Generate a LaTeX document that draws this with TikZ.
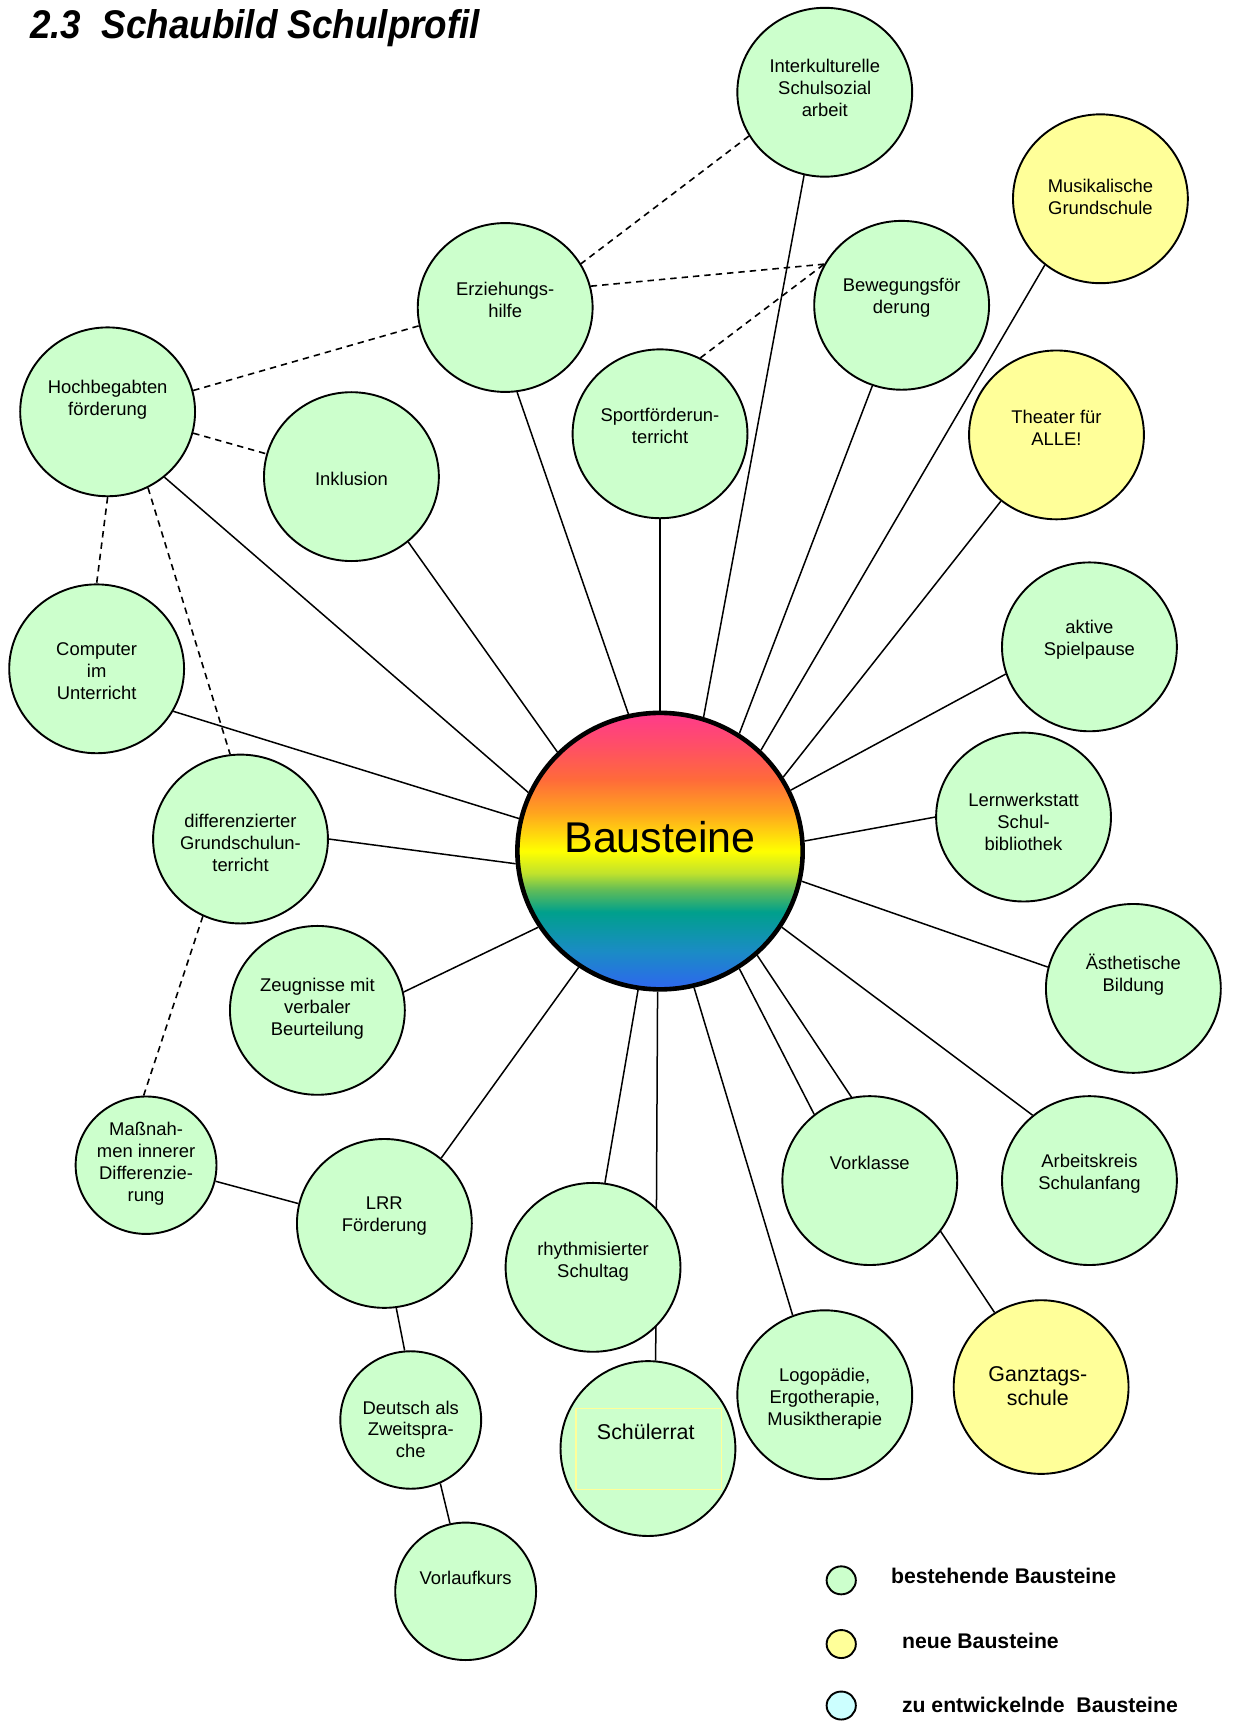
\documentclass[tikz,border=0pt]{standalone}
\usepackage{fontspec}
\setmainfont{Liberation Sans}
\newfontfamily\titlefont[FakeStretch=0.92]{Liberation Sans}
\usetikzlibrary{shapes.geometric,backgrounds}
\definecolor{lgreen}{HTML}{CCFFCC}
\definecolor{lyellow}{HTML}{FFFF99}
\definecolor{lcyan}{HTML}{CCFFFF}
\definecolor{rectyel}{HTML}{FFFF99}
\definecolor{sba}{HTML}{2E66F0}
\definecolor{sbb}{HTML}{1A8CC4}
\definecolor{sbc}{HTML}{00A08C}
\definecolor{sbd}{HTML}{60BC58}
\definecolor{sbe}{HTML}{C0E22C}
\definecolor{sbf}{HTML}{FFFF00}
\definecolor{sbg}{HTML}{FFA41E}
\definecolor{sbh}{HTML}{FF6A3A}
\definecolor{sbi}{HTML}{FF4F66}
\definecolor{sbj}{HTML}{FF3A8C}
\pgfdeclareverticalshading{rainbowb}{100bp}{color(0bp)=(sba); color(25bp)=(sba); color(32bp)=(sbb); color(39bp)=(sbc); color(43bp)=(sbd); color(46bp)=(sbe); color(50bp)=(sbf); color(57bp)=(sbg); color(63bp)=(sbh); color(69bp)=(sbi); color(75bp)=(sbj); color(100bp)=(sbj)}
\tikzset{
  bs/.style={ellipse, draw, line width=0.95pt, minimum width=87.4pt, minimum height=84.4pt, inner sep=0pt},
  grn/.style={bs, fill=lgreen},
  ylw/.style={bs, fill=lyellow},
  sml/.style={ellipse, draw, line width=0.95pt, fill=lgreen, minimum width=70.4pt, minimum height=68.7pt, inner sep=0pt},
  txt/.style={align=center, font=\fontsize{9.2}{11}\selectfont, inner sep=0pt, yshift=-0.8pt},
  bigtxt/.style={align=center, font=\fontsize{10.7}{12}\selectfont, inner sep=0pt},
  conn/.style={line width=0.75pt},
  dconn/.style={line width=0.8pt, dash pattern=on 3.2pt off 2.5pt},
  leg/.style={ellipse, draw, line width=0.95pt, minimum width=14.6pt, minimum height=14pt, inner sep=0pt},
  legtxt/.style={anchor=west, inner sep=0pt, font=\fontsize{10.6}{12}\selectfont\bfseries},
}
\begin{document}
\begin{tikzpicture}[x=0.54893pt, y=-0.54893pt]
\useasboundingbox (0,0) rectangle (1124,1568);
% title
\node[anchor=base west, inner sep=0pt, font=\titlefont\fontsize{20}{24}\selectfont\bfseries\itshape] (title) at (27,35.5) {2.3\ \ Schaubild Schulprofil};
% centre
\node[ellipse, draw, line width=2.3pt, shading=rainbowb, minimum width=142.6pt, minimum height=138.2pt, inner sep=0pt] (bau) at (601,775) {};
\node[inner sep=0pt, font=\fontsize{21.5}{24}\selectfont] (bau-t) at (601,762) {Bausteine};
% blocks
\node[grn] (inter) at (751,84) {};
\node[txt] (inter-t) at (751,79) {Interkulturelle\\Schulsozial\\arbeit};
\node[ylw] (musik) at (1002,181) {};
\node[txt] (musik-t) at (1002,178) {Musikalische\\Grundschule};
\node[grn] (erz) at (460,280) {};
\node[txt] (erz-t) at (460,272) {Erziehungs-\\hilfe};
\node[grn] (bew) at (821,278) {};
\node[txt] (bew-t) at (821,270) {Bewegungsför\\derung};
\node[grn] (hoch) at (98,375) {};
\node[txt] (hoch-t) at (98,362.5) {Hochbegabten\\förderung};
\node[grn] (sport) at (601,395) {};
\node[txt] (sport-t) at (601,386.5) {Sportförderun-\\terricht};
\node[ylw] (theat) at (962,396) {};
\node[txt] (theat-t) at (962,388) {Theater für\\ALLE!};
\node[grn] (inkl) at (320,434) {};
\node[txt] (inkl-t) at (320,435) {Inklusion};
\node[grn] (aktiv) at (992,589) {};
\node[txt] (aktiv-t) at (992,581) {aktive\\Spielpause};
\node[grn] (comp) at (88,609) {};
\node[txt] (comp-t) at (88,610) {Computer\\im\\Unterricht};
\node[grn] (diff) at (219,764) {};
\node[txt] (diff-t) at (219,766) {differenzierter\\Grundschulun-\\terricht};
\node[grn] (lern) at (932,744) {};
\node[txt] (lern-t) at (932,747) {Lernwerkstatt\\Schul-\\bibliothek};
\node[grn] (zeug) at (289,920) {};
\node[txt] (zeug-t) at (289,917) {Zeugnisse mit\\verbaler\\Beurteilung};
\node[grn] (aest) at (1032,900) {};
\node[txt] (aest-t) at (1032,886) {Ästhetische\\Bildung};
\node[sml] (mass) at (133,1061) {};
\node[txt] (mass-t) at (133,1058) {Maßnah-\\men innerer\\Differenzie-\\rung};
\node[grn] (lrr) at (350,1114) {};
\node[txt] (lrr-t) at (350,1106) {LRR\\Förderung};
\node[grn] (rhy) at (540,1154) {};
\node[txt] (rhy-t) at (540,1147) {rhythmisierter\\Schultag};
\node[grn] (vork) at (792,1075) {};
\node[txt] (vork-t) at (792,1057) {Vorklasse};
\node[grn] (arbk) at (992,1075) {};
\node[txt] (arbk-t) at (992,1067) {Arbeitskreis\\Schulanfang};
\node[grn] (logo) at (751,1270) {};
\node[txt] (logo-t) at (751,1272) {Logopädie,\\Ergotherapie,\\Musiktherapie};
\node[ylw, minimum height=86.8pt] (ganz) at (948,1263) {};
\node[bigtxt] (ganz-t) at (945,1262) {Ganztags-\\schule};
\node[sml] (deut) at (374,1293) {};
\node[txt, font=\fontsize{9.2}{10.7}\selectfont] (deut-t) at (374,1300) {Deutsch als\\Zweitspra-\\che};
\node[grn, minimum height=87.4pt] (schr) at (590,1319) {};
\node[draw=rectyel, line width=0.6pt, minimum width=72.5pt, minimum height=40.3pt, inner sep=0pt] (schr-r) at (590.6,1319.4) {};
\node[bigtxt] (schr-t) at (588,1304) {Schülerrat};
\node[sml] (vorl) at (424,1449) {};
\node[txt] (vorl-t) at (424,1435) {Vorlaufkurs};
% legend
\node[leg, fill=lgreen] (l1) at (766,1439) {};
\node[legtxt] (l1t) at (811,1435) {bestehende Bausteine};
\node[leg, fill=lyellow] (l2) at (766,1497) {};
\node[legtxt] (l2t) at (821,1494) {neue Bausteine};
\node[leg, fill=lcyan] (l3) at (766,1553) {};
\node[legtxt] (l3t) at (821,1552) {zu entwickelnde\ \ Bausteine};
% connectors
\begin{scope}[on background layer]
\fill[white] (0,0) rectangle (1124,1568);
\draw[conn] (hoch.-49.5) -- (bau.156);
\draw[conn] (inkl.-49) -- (bau.136);
\draw[conn] (erz.-82) -- (bau.103);
\draw[conn] (sport.-90) -- (bau.90);
\draw[conn] (inter.-104.6) -- (bau.72);
\draw[conn] (bew.-110.4) -- (bau.56.6);
\draw[conn] (musik.-130) -- (bau.45);
\draw[conn] (theat.-130) -- (bau.31.5);
\draw[conn] (aktiv.-162) -- (bau.25);
\draw[conn] (lern.180) -- (bau.4.8);
\draw[conn] (aest.166.5) -- (bau.-12);
\draw[conn] (arbk.131) -- (bau.-32);
\draw[conn] (ganz.122) -- (bau.-47.5);
\draw[conn] (vork.130) -- (bau.-56.3);
\draw[conn] (logo.112) -- (bau.-76.5);
\draw[conn] (schr.85.2) -- (bau.-91.7);
\draw[conn] (rhy.82) -- (bau.-99.5);
\draw[conn] (lrr.49) -- (bau.-125);
\draw[conn] (zeug.12.7) -- (bau.-148);
\draw[conn] (diff.0) -- (bau.-175.7);
\draw[conn] (comp.-29) -- (bau.167);
\draw[conn] (mass.-13.6) -- (lrr.167);
\draw[conn] (lrr.-82) -- (deut.95);
\draw[conn] (deut.-65) -- (vorl.103);
\draw[dconn] (inter.-150.5) -- (erz.30);
\draw[dconn] (erz.14.5) -- (bew.152);
\draw[dconn] (sport.62) -- (bew.152);
\draw[dconn] (hoch.14) -- (erz.192);
\draw[dconn] (hoch.-14) -- (inkl.165.5);
\draw[dconn] (hoch.-90) -- (comp.90);
\draw[dconn] (hoch.-62) -- (diff.97.5);
\draw[dconn] (diff.-116.6) -- (mass.92.7);
\end{scope}
\end{tikzpicture}
\end{document}
